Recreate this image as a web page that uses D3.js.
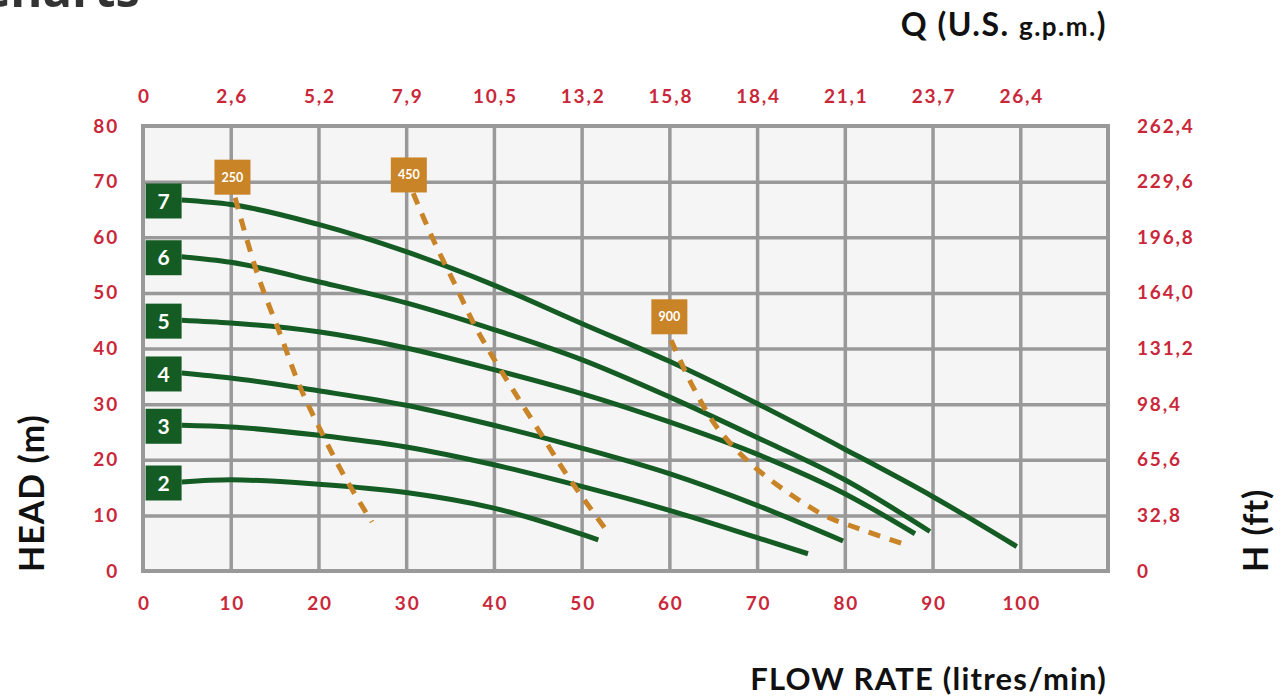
<!DOCTYPE html>
<html><head><meta charset="utf-8">
<script src="https://cdn.jsdelivr.net/npm/d3@7"></script>
<style>body{margin:0;background:#fff;} svg{display:block;}</style>
</head><body>
<svg id="c" width="1284" height="700"></svg>
<script>
// ---- data ----
const flowTicks = [0,10,20,30,40,50,60,70,80,90,100];
const gpmTicks = ["0","2,6","5,2","7,9","10,5","13,2","15,8","18,4","21,1","23,7","26,4"];
const headTicks = [0,10,20,30,40,50,60,70,80];
const feetTicks = ["0","32,8","65,6","98,4","131,2","164,0","196,8","229,6","262,4"];

const pumpNames = ["7","6","5","4","3","2"];
const pump7 = [[4.4,66.7],[10,65.9],[20,62.3],[30,57.4],[40,51.4],[50,44.5],[60,37.7],[70,30.1],[80,21.9],[90,13.4],[99.6,4.4]];
const pump6 = [[4.4,56.5],[10,55.5],[20,52.0],[30,48.2],[40,43.4],[50,38.0],[60,31.3],[70,24.0],[80,16.4],[89.7,7.1]];
const pump5 = [[4.4,45.1],[10,44.6],[20,43.0],[30,40.1],[40,36.2],[50,31.9],[60,26.8],[70,21.0],[80,13.9],[88.0,6.7]];
const pump4 = [[4.4,35.6],[10,34.7],[20,32.4],[30,29.8],[40,26.2],[50,22.1],[60,17.5],[70,11.8],[79.8,5.4]];
const pump3 = [[4.4,26.2],[10,25.9],[20,24.4],[30,22.3],[40,19.1],[50,15.2],[60,10.9],[70,6.0],[75.8,3.1]];
const pump2 = [[4.4,16.0],[10,16.4],[20,15.6],[30,14.1],[40,11.3],[51.9,5.6]];
const pumpCurves = [pump7,pump6,pump5,pump4,pump3,pump2];

const powerNames = ["250","450","900"];
const power250 = [[10.5,67.1],[13.0,53.6],[15.8,41.9],[17.9,33.1],[20.4,24.8],[23.0,16.9],[26.1,8.8]];
const power450 = [[30.8,67.9],[33.1,59.5],[35.6,51.4],[38.0,43.6],[40.9,35.8],[45.3,24.8],[48.3,17.3],[53.2,6.5]];
const power900 = [[60.2,41.5],[62.5,33.7],[65.4,25.9],[69.2,19.4],[73.6,14.0],[77.9,9.8],[80.9,8.0],[83.6,6.5],[87.0,4.7]];
const powerCurves = [power250,power450,power900];
const powerLabelAt = [[10.2,70.8],[30.3,71.2],[60.0,45.7]];

// ---- drawing ----
const GREEN = "#155c24", ORANGE = "#c98428", RED = "#c9283a", GRID = "#999999";
const svg = d3.select("#c");
const x = d3.scaleLinear([0,110],[143,1108]);
const y = d3.scaleLinear([0,80],[571,126]);
const font = "Lato, 'Open Sans', sans-serif";

// title (cut off at top edge, as in the source)
svg.append("text").attr("x",-21).attr("y",7).attr("font-family","'Open Sans', sans-serif")
  .attr("font-weight",700).attr("font-size",49).attr("fill","#333").text("Charts");

// plot background
svg.append("rect").attr("x",x(0)).attr("y",y(80)).attr("width",x(110)-x(0)).attr("height",y(0)-y(80))
  .attr("fill","#f5f5f5");

// grid
const gx = svg.append("g").attr("transform",`translate(0,${y(0)})`)
  .call(d3.axisBottom(x).tickValues(d3.range(10,110,10)).tickSize(-(y(0)-y(80))).tickFormat(""));
const gy = svg.append("g").attr("transform",`translate(${x(0)},0)`)
  .call(d3.axisLeft(y).tickValues(d3.range(10,80,10)).tickSize(-(x(110)-x(0))).tickFormat(""));
[gx,gy].forEach(g=>{g.select(".domain").remove(); g.selectAll("line").attr("stroke",GRID).attr("stroke-width",3.5);});
svg.append("rect").attr("x",x(0)).attr("y",y(80)).attr("width",x(110)-x(0)).attr("height",y(0)-y(80))
  .attr("fill","none").attr("stroke",GRID).attr("stroke-width",4);

// axes labels
function styleAxis(g){
  g.select(".domain").remove();
  g.selectAll("line").remove();
  g.selectAll("text").attr("font-family",font).attr("font-weight",700).attr("font-size",19)
    .attr("letter-spacing",1.8).attr("fill",RED);
}
svg.append("g").attr("transform",`translate(1,${y(0)})`)
  .call(d3.axisBottom(x).tickValues(flowTicks).tickSize(0).tickPadding(26)).call(styleAxis);
svg.append("g").attr("transform",`translate(1,${y(80)})`)
  .call(d3.axisTop(x).tickValues(flowTicks).tickSize(0).tickPadding(23).tickFormat((d,i)=>gpmTicks[i])).call(styleAxis);
svg.append("g").attr("transform",`translate(${x(0)},0)`)
  .call(d3.axisLeft(y).tickValues(headTicks).tickSize(0).tickPadding(24)).call(styleAxis);
svg.append("g").attr("transform",`translate(${x(110)},0)`)
  .call(d3.axisRight(y).tickValues(headTicks).tickSize(0).tickPadding(29).tickFormat((d,i)=>feetTicks[i])).call(styleAxis);

// axis titles
svg.append("text").attr("transform","translate(44,572) rotate(-90)").attr("font-family",font)
  .attr("font-weight",700).attr("font-size",34).attr("letter-spacing",1).attr("fill","#111").text("HEAD (m)");
svg.append("text").attr("transform","translate(1268,572) rotate(-90)").attr("font-family",font)
  .attr("font-weight",700).attr("font-size",34).attr("letter-spacing",1).attr("fill","#111").text("H (ft)");
svg.append("text").attr("x",1107).attr("y",690).attr("text-anchor","end").attr("font-family",font)
  .attr("font-weight",700).attr("font-size",31).attr("letter-spacing",1.2).attr("fill","#111").text("FLOW RATE (litres/min)");
const q = svg.append("text").attr("x",1107).attr("y",36).attr("text-anchor","end").attr("font-family",font)
  .attr("font-weight",700).attr("font-size",32).attr("letter-spacing",1.5).attr("fill","#111");
q.append("tspan").text("Q (U.S. ");
q.append("tspan").attr("font-size",26).text("g.p.m.");
q.append("tspan").text(")");

// pump curves
const line = d3.line().x(d=>x(d[0])).y(d=>y(d[1])).curve(d3.curveMonotoneX);
const dline = d3.line().x(d=>x(d[0])).y(d=>y(d[1])).curve(d3.curveCatmullRom.alpha(0.5));
pumpCurves.forEach(c=>{
  svg.append("path").attr("d",line(c)).attr("fill","none").attr("stroke",GREEN).attr("stroke-width",5);
});
// power curves (dashed)
powerCurves.forEach(c=>{
  svg.append("path").attr("d",dline(c)).attr("fill","none").attr("stroke",ORANGE).attr("stroke-width",5)
    .attr("stroke-dasharray","12,10");
});

// pump labels
pumpCurves.forEach((c,i)=>{
  const cx = x(c[0][0]) - 18, cy = y(c[0][1]) + 1;
  svg.append("rect").attr("x",cx-18).attr("y",cy-17.5).attr("width",36).attr("height",35).attr("fill",GREEN);
  svg.append("text").attr("x",cx).attr("y",cy).attr("dy","0.36em").attr("text-anchor","middle")
    .attr("font-family",font).attr("font-weight",700).attr("font-size",21).attr("fill","#fff").text(pumpNames[i]);
});
// power labels
powerLabelAt.forEach((p,i)=>{
  const cx = x(p[0]), cy = y(p[1]);
  svg.append("rect").attr("x",cx-18).attr("y",cy-17.5).attr("width",36).attr("height",35).attr("fill",ORANGE);
  svg.append("text").attr("x",cx).attr("y",cy).attr("dy","0.36em").attr("text-anchor","middle")
    .attr("font-family",font).attr("font-weight",700).attr("font-size",12.5).attr("fill","#fff").text(powerNames[i]);
});
</script>
</body></html>
